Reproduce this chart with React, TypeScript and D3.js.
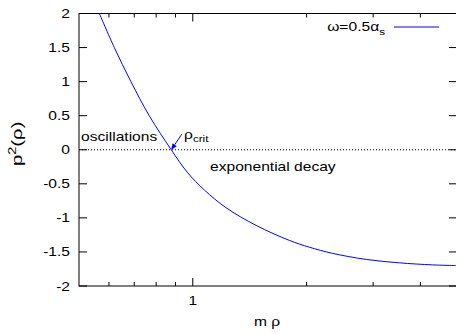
import React from 'react';
import * as d3 from 'd3';

// ---- data ----
const rho = [0.566, 0.62, 0.686, 0.767, 0.877, 0.967, 1.073, 1.224, 1.47, 1.8, 2.033, 2.339, 2.877, 3.518, 4.301, 5.0];
const p2 = [2.0, 1.5, 1.0, 0.5, 0.0, -0.33, -0.59, -0.85, -1.11, -1.33, -1.43, -1.52, -1.61, -1.66, -1.69, -1.70];
const yTicks = [-2, -1.5, -1, -0.5, 0, 0.5, 1, 1.5, 2];
const yTickLabels = ['-2', '-1.5', '-1', '-0.5', '0', '0.5', '1', '1.5', '2'];
const xMajorTicks = [1];
const xMajorLabels = ['1'];
const xMinorTicks = [0.6, 0.7, 0.8, 0.9, 2, 3, 4];
const xDomain = [0.5, 5];
const yDomain = [-2, 2];
const rhoCrit = 0.877;
const seriesName = 'ω=0.5α';
const seriesSub = 's';
const xLabel = 'm ρ';

const W = 456, H = 333;
const L = 79, R = 457, T = 13.5, B = 286;
const FONT = 'Liberation Sans, Arial, Helvetica, sans-serif';
const BLUE = '#0000ff';

function Txt({ x, y, anchor = 'start', size = 12, sx = 1.3, rotate = 0, children, fill = '#000' }: any) {
  const tr = `translate(${x},${y})` + (rotate ? ` rotate(${rotate})` : '') + ` scale(${sx},1)`;
  return (
    <text transform={tr} textAnchor={anchor} fontSize={size} fontFamily={FONT} fill={fill}>
      {children}
    </text>
  );
}

export default function App() {
  const x = d3.scaleLog().domain(xDomain).range([L, R]);
  const y = d3.scaleLinear().domain(yDomain).range([B, T]);
  const pts: [number, number][] = rho.map((r, i) => [x(r), y(p2[i])]);
  const line = d3.line().curve(d3.curveCatmullRom.alpha(0.5))(pts) || '';

  const cx = x(rhoCrit), cy = y(0);
  const ax = cx + 10.5, ay = cy - 15.5;
  const ang = Math.atan2(cy - ay, cx - ax);
  const hl = 6, hw = 2.6;
  const bx = cx - hl * Math.cos(ang), by = cy - hl * Math.sin(ang);
  const head = `${cx},${cy} ${bx + hw * Math.sin(ang)},${by - hw * Math.cos(ang)} ${bx - hw * Math.sin(ang)},${by + hw * Math.cos(ang)}`;

  return (
    <svg width={W} height={H} style={{ position: 'absolute', left: 0, top: 0, background: '#fff' }}>
      <rect x={0} y={0} width={W} height={H} fill="#fff" />
      <defs>
        <clipPath id="plot">
          <rect x={L} y={T} width={R - L} height={B - T} />
        </clipPath>
      </defs>
      {/* zero line */}
      <line x1={L} x2={R} y1={y(0)} y2={y(0)} stroke="#000" strokeWidth={1} strokeDasharray="1,2" />
      {/* y ticks */}
      {yTicks.map((v, i) => (
        <g key={'y' + i}>
          <line x1={L} x2={L + 8} y1={y(v)} y2={y(v)} stroke="#000" />
          <line x1={R} x2={R - 8} y1={y(v)} y2={y(v)} stroke="#000" />
          <Txt x={70} y={y(v) + 4.5} anchor="end">{yTickLabels[i]}</Txt>
        </g>
      ))}
      {/* x ticks */}
      {xMinorTicks.map((v, i) => (
        <g key={'xm' + i}>
          <line x1={x(v)} x2={x(v)} y1={B} y2={B - 4} stroke="#000" />
          <line x1={x(v)} x2={x(v)} y1={T} y2={T + 4} stroke="#000" />
        </g>
      ))}
      {xMajorTicks.map((v, i) => (
        <g key={'xM' + i}>
          <line x1={x(v)} x2={x(v)} y1={B} y2={B - 8} stroke="#000" />
          <line x1={x(v)} x2={x(v)} y1={T} y2={T + 8} stroke="#000" />
          <Txt x={x(v)} y={305} anchor="middle">{xMajorLabels[i]}</Txt>
        </g>
      ))}
      {/* frame */}
      <rect x={L} y={T} width={R - L} height={B - T} fill="none" stroke="#000" strokeWidth={1} />
      {/* curve */}
      <path d={line} fill="none" stroke={BLUE} strokeWidth={1} clipPath="url(#plot)" />
      {/* arrow */}
      <line x1={ax} y1={ay} x2={bx} y2={by} stroke={BLUE} strokeWidth={1} />
      <polygon points={head} fill={BLUE} />
      {/* annotations */}
      <Txt x={81} y={141}>oscillations</Txt>
      <Txt x={184} y={139}>ρ<tspan fontSize={9} dy={2.5}>crit</tspan></Txt>
      <Txt x={210} y={171}>exponential decay</Txt>
      {/* legend */}
      <Txt x={385} y={31} anchor="end">{seriesName}<tspan fontSize={9} dy={4}>{seriesSub}</tspan></Txt>
      <line x1={394} x2={439} y1={27} y2={27} stroke={BLUE} strokeWidth={1} />
      {/* axis labels */}
      <Txt x={267} y={326} anchor="middle">{xLabel}</Txt>
      <Txt x={22} y={166} anchor="start" rotate={-90} size={14} sx={1.45}>
        p<tspan fontSize={10} dy={-6}>2</tspan><tspan dy={6}>(ρ)</tspan>
      </Txt>
    </svg>
  );
}
